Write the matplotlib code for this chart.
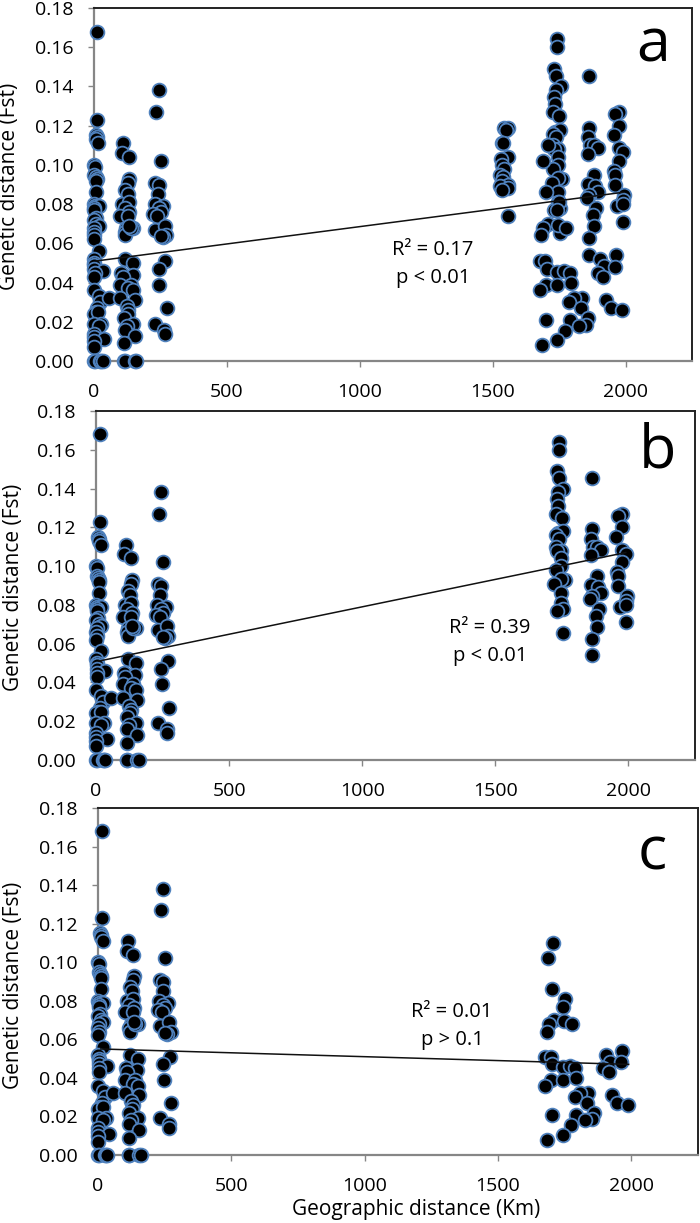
import matplotlib
matplotlib.use("Agg")
import matplotlib.pyplot as plt

plt.rcParams['font.family'] = ['Open Sans', 'DejaVu Sans']

W, H = 700, 1223

# Shared near-distance cluster (km, Fst)
near_x = [15,15,8,12,10,18,0,5,3,8,12,10,10,0,5,20,3,3,8,0,10,20,3,1,3,0,20,0,3,2,3,35,5,3,0,20,25,15,8,0,18,30,0,20,0,0,40,0,0,
          0,5,25,30,35,58,
          112,107,132,135,130,120,128,108,132,118,135,100,130,122,118,120,150,140,135,120,150,105,148,110,100,140,130,150,100,155,125,130,128,115,150,125,118,155,115,115,118,155,160,
          245,235,253,232,245,242,230,262,245,252,225,240,232,268,272,260,252,270,245,248,275,233,265,268]
near_y = [.168,.123,.115,.114,.113,.111,.100,.099,.095,.094,.093,.092,.086,.080,.079,.079,.078,.077,.073,.072,.070,.069,.068,.066,.064,.062,.056,.052,.050,.049,.047,.046,.045,.043,.036,.033,.030,.027,.025,.024,.025,.019,.019,.018,.014,.012,.011,.010,.007,
          0,0,0,0,0,.032,
          .111,.106,.104,.093,.091,.087,.085,.080,.081,.078,.076,.074,.074,.068,.066,.064,.068,.068,.069,.052,.050,.045,.044,.043,.039,.039,.037,.036,.032,.031,.028,.026,.024,.022,.019,.018,.016,.013,.009,0,0,0,0,
          .138,.127,.102,.091,.090,.085,.080,.079,.078,.076,.075,.074,.067,.069,.064,.063,.0635,.051,.047,.039,.027,.019,.016,.014]

# Group near 1550 km, only in panel a
mid_x = [1545,1560,1550,1537,1540,1560,1533,1537,1545,1530,1540,1535,1560,1530,1560,1537,1560]
mid_y = [.119,.119,.118,.111,.111,.104,.103,.100,.098,.095,.094,.092,.090,.089,.088,.087,.074]

# Far group of panel b
far_b_x = [1741,1741,1731,1739,1756,1737,1731,1735,1729,1751,1735,1754,1729,1739,1729,1747,1731,1747,1745,1729,1760,1745,1722,1745,1745,1754,1731,1754,
           1863,1863,1860,1867,1882,1896,1860,1883,1860,1885,1898,1863,1855,1889,1879,1881,1863,1863,
           1974,1959,1974,1955,1974,1992,1974,1957,1959,1961,1995,1967,1992,1992,1992]
far_b_y = [.164,.160,.149,.1455,.140,.138,.1345,.131,.127,.125,.117,.118,.116,.114,.110,.108,.108,.104,.100,.098,.093,.0935,.091,.086,.081,.078,.077,.0655,
           .1455,.119,.114,.110,.110,.1085,.1055,.095,.0905,.089,.086,.0845,.083,.078,.0745,.0686,.0625,.054,
           .127,.126,.120,.115,.1085,.1065,.102,.097,.095,.090,.0845,.079,.082,.080,.071]

# Far group of panel c
far_c_x = [1707,1688,1703,1750,1744,1709,1690,1682,1748,1777,1678,1699,1704,1742,1769,1790,1700,1744,1794,1678,1838,1807,1788,1832,1703,1791,1860,1851,1826,1772,1744,1685,
           1905,1964,1920,1961,1895,1917,1926,1945,1988]
far_c_y = [.110,.102,.086,.081,.077,.070,.068,.064,.0695,.068,.051,.051,.047,.0455,.046,.045,.039,.039,.040,.036,.032,.032,.030,.027,.021,.021,.022,.0185,.018,.0155,.0105,.008,
           .052,.054,.0485,.048,.045,.043,.031,.027,.026]

line_x = [10, 1990]
line_a = [.051, .086]
line_b = [.051, .107]
line_c = [.055, .047]

x_ticks = [0, 500, 1000, 1500, 2000]
y_ticks = [0, .02, .04, .06, .08, .10, .12, .14, .16, .18]

panels = [
    dict(name='a', l=93.5, r=692, t=8, b=361,
         x=near_x+mid_x+far_b_x+far_c_x, y=near_y+mid_y+far_b_y+far_c_y, line=line_a,
         stats=('R² = 0.17', 'p < 0.01'), sx=433, sy=(250, 278), lx=653, ly=62, yl=10, yc=186),
    dict(name='b', l=96, r=695, t=411, b=760,
         x=near_x+far_b_x, y=near_y+far_b_y, line=line_b,
         stats=('R² = 0.39', 'p < 0.01'), sx=490, sy=(628, 656), lx=657, ly=468, yl=14, yc=587),
    dict(name='c', l=98, r=698, t=808, b=1155,
         x=near_x+far_c_x, y=near_y+far_c_y, line=line_c,
         stats=('R² = 0.01', 'p > 0.1'), sx=452, sy=(1012, 1040), lx=652, ly=870, yl=14, yc=985),
]

fig = plt.figure(figsize=(W/100, H/100), dpi=100)
GRAY = '#868686'
for p in panels:
    ax = fig.add_axes([p['l']/W, 1-p['b']/H, (p['r']-p['l'])/W, (p['b']-p['t'])/H])
    ax.set_xlim(0, 2250)
    ax.set_ylim(0, 0.18)
    ax.scatter(p['x'], p['y'], s=98, facecolor='black', edgecolor='#4f81bd', linewidth=1.3,
               clip_on=False, zorder=3)
    ax.plot(line_x, p['line'], color='#111111', lw=1.1, zorder=4)
    ax.set_xticks(x_ticks)
    ax.set_yticks(y_ticks)
    ax.set_yticklabels([f'{v:.2f}' for v in y_ticks])
    ax.tick_params(axis='x', length=4.5, width=1, color=GRAY, labelsize=14, pad=11)
    ax.tick_params(axis='y', length=4.5, width=1, color=GRAY, labelsize=14, pad=10)
    for s in ('left', 'bottom'):
        ax.spines[s].set_color(GRAY)
        ax.spines[s].set_linewidth(1.6)
    for s in ('top', 'right'):
        ax.spines[s].set_color('#222222')
        ax.spines[s].set_linewidth(1.4)
    for txt, yy in zip(p['stats'], p['sy']):
        fig.text(p['sx']/W, 1-yy/H, txt, ha='center', va='center', fontsize=14.5)
    fig.text(p['lx']/W, 1-p['ly']/H, p['name'], ha='center', va='baseline', fontsize=44)
    fig.text(p['yl']/W, 1-p['yc']/H, 'Genetic distance (Fst)', rotation=90,
             ha='center', va='center', fontsize=15)

fig.text(416/W, 1-1210/H, 'Geographic distance (Km)', ha='center', va='center', fontsize=15)
fig.savefig('out.png', dpi=100)
